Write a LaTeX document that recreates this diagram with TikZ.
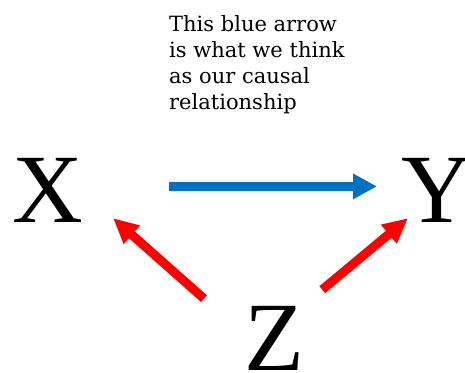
\documentclass[tikz,border=0pt]{standalone}
\usepackage{fontspec}
\setmainfont{Liberation Serif}
\newfontfamily\notefont{DejaVu Serif}
\definecolor{flechaazul}{HTML}{0070C0}
\definecolor{flecharoja}{HTML}{FF0000}
\usetikzlibrary{arrows.meta, calc}

\begin{document}
\begin{tikzpicture}[
  x=1pt, y=-1pt,
  var/.style={inner sep=0pt, anchor=base west,
              font=\fontsize{98}{98}\selectfont},
  azul/.style={-{Triangle[length=24pt, width=24pt]},
               color=flechaazul, line width=9pt},
  rojo/.style={-{Triangle[length=25pt, width=23pt]},
               color=flecharoja, line width=9pt},
  nota/.style={inner sep=0pt, anchor=base west, align=left,
               font=\notefont\fontsize{21}{25.7}\selectfont}
]
  \useasboundingbox (0,0) rectangle (465,372);

  \node[var] (x) at (12,222)  {X};
  \node[var] (y) at (401,222) {Y};
  \node[var] (z) at (244,370) {Z};

  % base of the last line
  \node[nota] (nota) at (169,109)
    {This blue arrow\\is what we think\\as our causal\\relationship};

  \draw[azul] ($(x.east)+(86,-3.5)$) -- ($(y.west)+(-24,-3.5)$);
  \draw[rojo] ($(z.north west)+(-40,-7)$) -- ($(x.south east)+(30,-4)$);
  \draw[rojo] ($(z.north east)+(18,-16)$) -- ($(y.south west)+(7,-4)$);
\end{tikzpicture}
\end{document}
